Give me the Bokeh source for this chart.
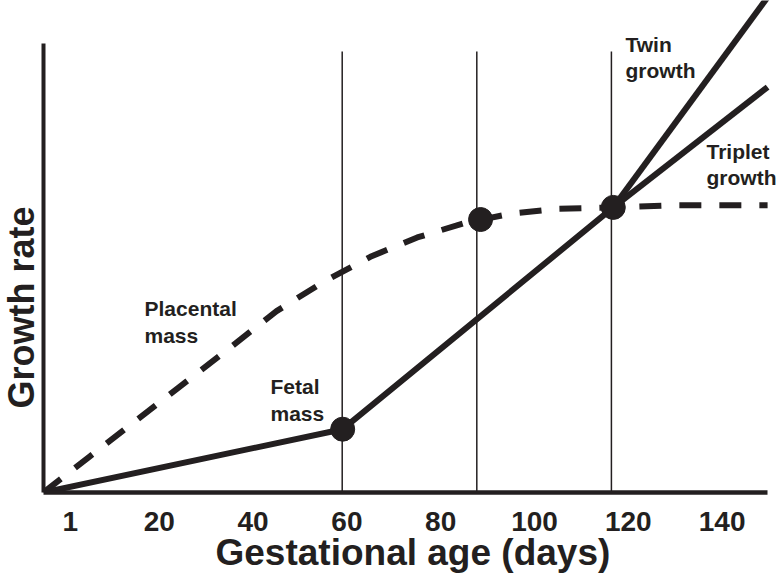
from bokeh.plotting import figure
from bokeh.models import Range1d, FixedTicker, Label, Title
from bokeh.embed import file_html
from bokeh.resources import INLINE

# ---- data ----
tick_days = [1, 20, 40, 60, 80, 100, 120, 140]
tick_labels = ["1", "20", "40", "60", "80", "100", "120", "140"]

fetal_days = [-4.69, 59.1, 116.8]
fetal_rate = [0.0, 14.1, 63.5]

twin_days = [116.8, 149.7]
twin_rate = [63.5, 110.3]

triplet_days = [116.8, 149.7]
triplet_rate = [63.5, 90.3]

placental_days = [-4.69, 5, 15, 25, 35, 45, 55, 65, 75, 85, 95, 105, 116.8, 130, 149.7]
placental_rate = [0.0, 7.9, 16.0, 24.1, 32.2, 40.4, 46.9, 52.5, 56.8, 60.0, 62.1, 63.2, 63.5, 64.0, 64.0]

marker_days = [59.1, 88.5, 116.8]
marker_rate = [14.1, 60.8, 63.5]

stage_days = [59.0, 87.7, 116.4]
stage_bottom = [0.0, 0.0, 0.0]
stage_top = [98.2, 98.2, 98.2]

axis_x_bounds = (-4.69, 149.68)
axis_y_bounds = (0, 100)

# ---- styling ----
INK = "#231f20"
FONT = "Liberation Sans"
FRAME_LEFT, FRAME_BOTTOM = 43, 492  # pixels of the frame corner

p = figure(width=782, height=586,
           x_range=Range1d(-4.69, 152.88), y_range=Range1d(0, 109.58),
           output_backend="svg", toolbar_location=None,
           min_border_left=43, min_border_right=0,
           min_border_top=0, min_border_bottom=94)
p.grid.visible = False
p.outline_line_color = None
p.background_fill_color = "white"

xa = p.xaxis[0]
xa.bounds = axis_x_bounds
xa.ticker = FixedTicker(ticks=tick_days)
xa.major_label_overrides = {d: s for d, s in zip(tick_days, tick_labels)}
xa.axis_line_color = INK
xa.axis_line_width = 4.5
xa.major_tick_line_color = None
xa.minor_tick_line_color = None
xa.major_tick_out = 0
xa.major_tick_in = 0
xa.major_label_text_font = FONT
xa.major_label_text_font_style = "bold"
xa.major_label_text_font_size = "28px"
xa.major_label_text_color = INK
xa.major_label_standoff = 19

ya = p.yaxis[0]
ya.bounds = axis_y_bounds
ya.ticker = FixedTicker(ticks=[])
ya.axis_line_color = INK
ya.axis_line_width = 4
ya.major_tick_line_color = None
ya.minor_tick_line_color = None
ya.major_tick_out = 0
ya.major_tick_in = 0
ya.major_label_standoff = 0
ya.major_label_text_color = None

# axis titles
p.add_layout(Title(text="Gestational age (days)", align="left", offset=172,
                   standoff=-7, text_font=FONT, text_font_style="bold",
                   text_font_size="37px", text_color=INK), "below")
p.add_layout(Title(text="Growth rate", align="left", offset=84,
                   vertical_align="top", standoff=0, text_font=FONT,
                   text_font_style="bold", text_font_size="36px",
                   text_color=INK), "left")

# stage lines
p.segment(x0=stage_days, y0=stage_bottom, x1=stage_days, y1=stage_top,
          line_color=INK, line_width=1.5)

# placental mass (dashed)
p.line(placental_days, placental_rate, line_color=INK, line_width=6,
       line_dash="22 18")

# fetal mass and multiples
p.line(fetal_days, fetal_rate, line_color=INK, line_width=6)
p.line(twin_days, twin_rate, line_color=INK, line_width=6)
p.line(triplet_days, triplet_rate, line_color=INK, line_width=6)

p.scatter(marker_days, marker_rate, size=24, fill_color=INK, line_color=INK)


def place(text, px, py, size):
    p.add_layout(Label(x=px - FRAME_LEFT, y=FRAME_BOTTOM - py,
                       x_units="screen", y_units="screen", text=text,
                       text_align="left", text_baseline="alphabetic",
                       text_font=FONT, text_font_style="bold",
                       text_font_size=size, text_color=INK))


for t, x, y in [("Placental", 144, 308), ("mass", 144, 335),
                ("Fetal", 270, 386), ("mass", 270, 413),
                ("Twin", 625, 44), ("growth", 625, 70),
                ("Triplet", 706, 151), ("growth", 706, 177)]:
    place(t, x, y, "21px")

open("out.html", "w").write(file_html(p, INLINE))
